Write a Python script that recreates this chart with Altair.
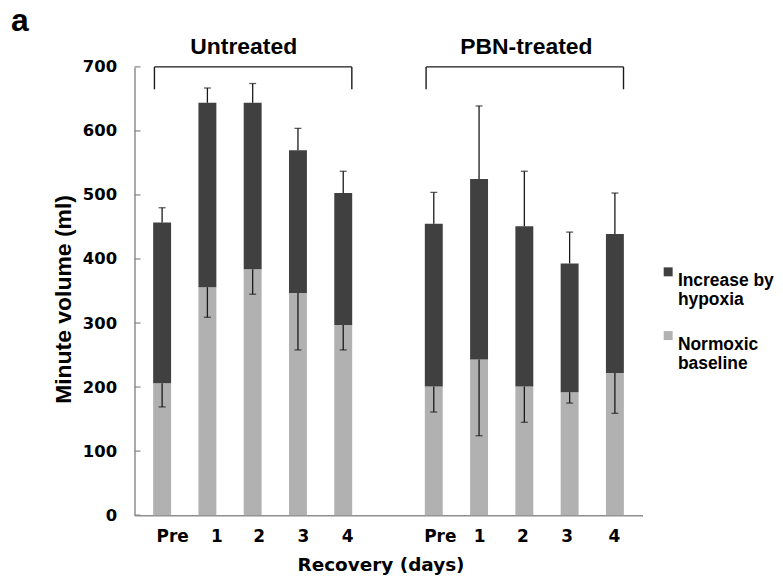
import altair as alt
import pandas as pd

# ---- data ----
groups = ["Untreated", "PBN-treated"]
days = ["Pre", "1", "2", "3", "4"]
series = ["Increase by hypoxia", "Normoxic baseline"]

baseline_untreated = [206, 356, 384, 347, 297]
increase_untreated = [251, 288, 260, 223, 206]
err_up_untreated = [23, 23, 30, 34, 34]     # error above total
err_down_untreated = [37, 47, 39, 89, 39]   # error below baseline

baseline_pbn = [201, 243, 201, 192, 222]
increase_pbn = [254, 282, 250, 201, 217]
err_up_pbn = [49, 114, 86, 49, 64]
err_down_pbn = [40, 119, 56, 17, 63]

y_ticks = [0, 100, 200, 300, 400, 500, 600, 700]

# ---- build tables ----
gap = 1  # one empty slot between the groups
bar_rows, err_rows, pos_list, label_list = [], [], [], []
sets = [
    (baseline_untreated, increase_untreated, err_up_untreated, err_down_untreated),
    (baseline_pbn, increase_pbn, err_up_pbn, err_down_pbn),
]
for gi, (g, (base, inc, eu, ed)) in enumerate(zip(groups, sets)):
    for di, d in enumerate(days):
        pos = gi * (len(days) + gap) + di
        pos_list.append(pos)
        label_list.append(d)
        total = base[di] + inc[di]
        bar_rows.append(dict(pos=pos, group=g, day=d, series=series[1], y0=0, y1=base[di]))
        bar_rows.append(dict(pos=pos, group=g, day=d, series=series[0], y0=base[di], y1=total))
        err_rows.append(dict(pos=pos, group=g, base=base[di], low=base[di] - ed[di],
                             total=total, high=total + eu[di]))
bars_df = pd.DataFrame(bar_rows)
err_df = pd.DataFrame(err_rows)

n_slots = max(pos_list) + 1
slot_labels = [""] * n_slots
for p, l in zip(pos_list, label_list):
    slot_labels[p] = l
label_expr = "[" + ",".join("'%s'" % s for s in slot_labels) + "][datum.value]"
# small horizontal nudges of the category labels, as in the original figure
label_nudge = [10, 9, 6, 5, 4, 0, 6, 0, -2, -3, -1]
nudge_expr = "[" + ",".join(str(v) for v in label_nudge) + "][datum.value]"

grp_rows = []
for gi, g in enumerate(groups):
    ps = [p for p, r in zip(pos_list, bar_rows[::2]) if r["group"] == g]
    grp_rows.append(dict(group=g, x0=min(ps) - 0.17, x1=max(ps) + 0.19, xc=sum(ps) / len(ps)))
grp_df = pd.DataFrame(grp_rows)
ticks_df = pd.DataFrame({"v": y_ticks})

DARK = "#404040"
LIGHT = "#b1b1b1"
AXIS = "#8e8e8e"
INK = "#1a1a1a"

xscale = alt.Scale(domain=[-0.5, n_slots - 0.5], nice=False, zero=False)
yscale = alt.Scale(domain=[0, 700], nice=False)

x_axis = alt.Axis(
    values=pos_list, labelExpr=label_expr, ticks=False, grid=False,
    domainColor=AXIS, domainWidth=1.5, labelFont="DejaVu Sans", labelFontWeight="bold",
    labelFontSize=17, labelColor="black", labelPadding=13, labelBaseline="top",
    labelOffset={"expr": nudge_expr},
    title="Recovery (days)", titleFont="DejaVu Sans", titleFontWeight="bold",
    titleFontSize=18.5, titleColor="black", titleX=247, titleY=41, titleBaseline="top",
    titleAlign="center",
)
y_axis = alt.Axis(
    values=y_ticks, ticks=False, grid=False, domainColor=AXIS, domainWidth=1.5,
    labelFont="DejaVu Sans", labelFontWeight="bold", labelFontSize=16.5,
    labelColor="black", labelPadding=18,
    title="Minute volume (ml)", titleFont="Liberation Sans", titleFontWeight="bold",
    titleFontSize=23, titleColor="black", titlePadding=7, titleY=233,
)

base = alt.Chart(bars_df)

bars = base.mark_bar(size=18).encode(
    x=alt.X("pos:Q", scale=xscale, axis=x_axis),
    y=alt.Y("y0:Q", scale=yscale, axis=y_axis),
    y2="y1:Q",
    color=alt.Color(
        "series:N",
        scale=alt.Scale(domain=series, range=[DARK, LIGHT]),
        legend=alt.Legend(
            title=None, orient="none", legendX=527, legendY=197, padding=0,
            symbolType="square", symbolSize=81, symbolStrokeWidth=0,
            labelFont="Liberation Sans", labelFontWeight="bold", labelFontSize=17.5,
            labelColor="black", labelOffset=1, labelBaseline="top", rowPadding=18,
            labelExpr="datum.label == '%s' ? ['Increase by','hypoxia'] : ['Normoxic','baseline']" % series[0],
            labelLimit=300,
        ),
    ),
)

err = alt.Chart(err_df)
err_low = err.mark_rule(color=INK, strokeWidth=1.3).encode(x="pos:Q", y="low:Q", y2="base:Q")
err_high = err.mark_rule(color=INK, strokeWidth=1.3).encode(x="pos:Q", y="total:Q", y2="high:Q")
cap_low = err.mark_tick(orient="horizontal", size=7, thickness=1.3, color=INK).encode(x="pos:Q", y="low:Q")
cap_high = err.mark_tick(orient="horizontal", size=7, thickness=1.3, color=INK).encode(x="pos:Q", y="high:Q")

inner_ticks = alt.Chart(ticks_df).mark_rule(color=AXIS, strokeWidth=1.3).encode(
    x=alt.value(0), x2=alt.value(6), y="v:Q"
)

gb = alt.Chart(grp_df)
br_top = gb.mark_rule(color=INK, strokeWidth=1.4).encode(x="x0:Q", x2="x1:Q", y=alt.datum(700))
br_left = gb.mark_rule(color=INK, strokeWidth=1.4).encode(x="x0:Q", y=alt.datum(700), y2=alt.datum(665))
br_right = gb.mark_rule(color=INK, strokeWidth=1.4).encode(x="x1:Q", y=alt.datum(700), y2=alt.datum(665))

title_u = gb.transform_filter(alt.datum.group == groups[0]).mark_text(
    font="Liberation Sans", fontWeight="bold", fontSize=23, color="black",
    baseline="alphabetic", dx=-9,
).encode(x="xc:Q", y=alt.value(-13), text="group:N")
title_p = gb.transform_filter(alt.datum.group == groups[1]).mark_text(
    font="Liberation Sans", fontWeight="bold", fontSize=23, color="black",
    baseline="alphabetic", dx=2,
).encode(x="xc:Q", y=alt.value(-13), text="group:N")

panel = alt.Chart(pd.DataFrame({"t": ["a"]})).mark_text(
    font="Liberation Sans", fontWeight="bold", fontSize=32, color="black",
    align="left", baseline="alphabetic",
).encode(x=alt.value(-124), y=alt.value(-36), text="t:N")

chart = alt.layer(
    bars, err_low, err_high, cap_low, cap_high, inner_ticks,
    br_top, br_left, br_right, title_u, title_p, panel,
).properties(
    width=510, height=450,
    padding={"left": 127, "top": 58, "right": 133, "bottom": 63},
    autosize=alt.AutoSizeParams(type="none"),
).configure_view(stroke=None)

chart.save("out.html", embed_options={"renderer": "svg", "actions": False})
